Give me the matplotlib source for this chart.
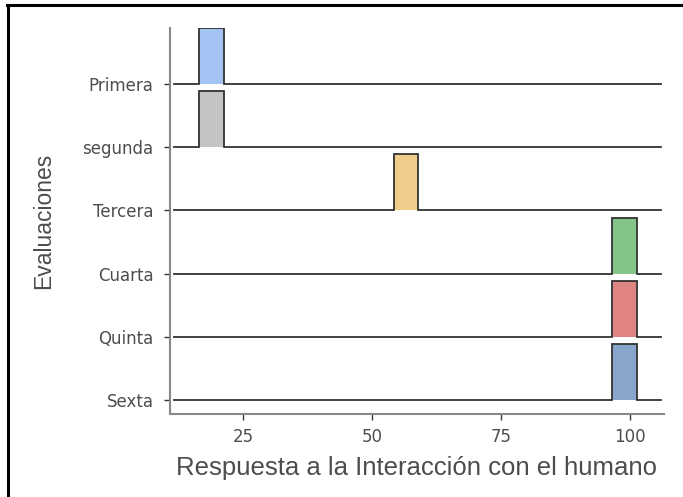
import matplotlib.pyplot as plt
from matplotlib.lines import Line2D
import numpy as np

# datos
evaluaciones = ["Primera", "segunda", "Tercera", "Cuarta", "Quinta", "Sexta"]
centros = [18.9, 18.9, 56.6, 99.0, 99.0, 99.0]   # centro del bin con datos
ancho_bin = 4.8
altura = 0.886                                     # altura relativa de la cresta
x_min, x_max = 11.6, 106.0                         # extension de la linea base
colores = ["#a3c4f3", "#c4c4c4", "#f0cc8a", "#85c488", "#e08482", "#88a5cb"]

fig = plt.figure(figsize=(6.83, 4.97), dpi=100)
ax = fig.add_axes([0.249, 0.167, 0.723, 0.777])

n = len(evaluaciones)
for i, (nombre, c, col) in enumerate(zip(evaluaciones, centros, colores)):
    y0 = n - 1 - i
    a, b = c - ancho_bin / 2, c + ancho_bin / 2
    ax.fill_between([a, b], y0, y0 + altura, color=col, lw=0, zorder=2 + i)
    xs = [x_min, a, a, b, b, x_max]
    ys = [y0, y0, y0 + altura, y0 + altura, y0, y0]
    ax.plot(xs, ys, color="#333333", lw=1.3, zorder=3 + i, solid_joinstyle="miter")

ax.set_xlim(10.85, 106.6)
ax.set_ylim(-0.2215, 5.886)
ax.set_xticks([25, 50, 75, 100])
ax.set_yticks(range(n))
ax.set_yticklabels(evaluaciones[::-1])

for s in ["top", "right"]:
    ax.spines[s].set_visible(False)
for s in ["left", "bottom"]:
    ax.spines[s].set_color("#888888")
    ax.spines[s].set_linewidth(1.5)

ax.tick_params(axis="both", colors="#333333", labelcolor="#4d4d4d",
               labelsize=12, length=4, width=1)
ax.tick_params(axis="y", pad=8)
ax.tick_params(axis="x", pad=6)

ax.set_xlabel("Respuesta a la Interacción con el humano", fontsize=18.5,
              color="#4d4d4d", family="Liberation Sans")
ax.set_ylabel("Evaluaciones", fontsize=16.5, color="#4d4d4d", family="Liberation Sans")
ax.xaxis.set_label_coords(0.5, -0.108)
ax.yaxis.set_label_coords(-0.232, 0.5)

# marco negro (arriba e izquierda)
fig.add_artist(Line2D([7 / 683, 1], [1 - 5 / 497, 1 - 5 / 497], color="black", lw=2.2))
fig.add_artist(Line2D([8 / 683, 8 / 683], [0, 1 - 5 / 497], color="black", lw=2.2))

fig.savefig("out.png", dpi=100)
